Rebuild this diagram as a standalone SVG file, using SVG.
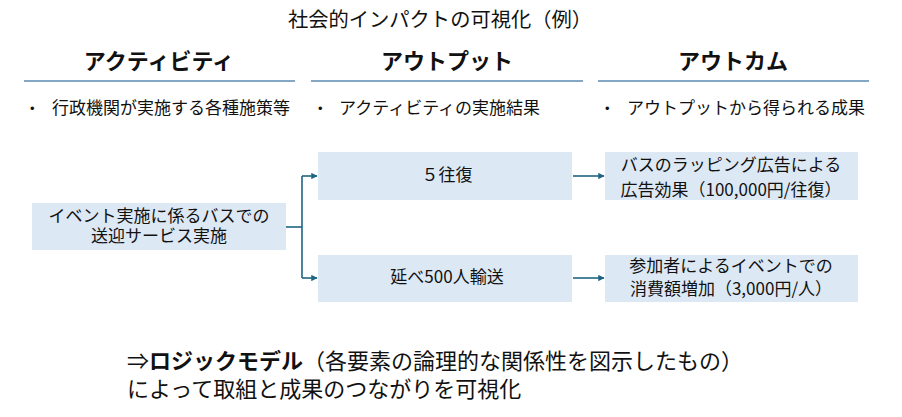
<svg xmlns="http://www.w3.org/2000/svg" width="902" height="417" viewBox="0 0 902 417">
<style>
text{font-family:"Noto Sans CJK JP","Noto Sans",sans-serif;fill:#111;}
.title{font-size:20px;font-family:"Noto Sans CJK JP",serif;}
.hdr{font-size:22px;font-weight:bold;text-anchor:middle;}
.bul{font-size:17px;}
.dot{font-size:13px;font-family:"Liberation Sans",sans-serif;}
.box{fill:#dde8f5;}
.bt{font-size:17px;text-anchor:middle;}
.rule{stroke:#5a8ab0;stroke-width:1.5;}
.conn{stroke:#1f6582;stroke-width:1.6;fill:none;}
.note{font-size:22px;}
</style>
<defs>
<marker id="ah" viewBox="0 0 10 10" refX="9" refY="5" markerWidth="4" markerHeight="4" orient="auto" markerUnits="strokeWidth">
<path d="M0,0 L10,5 L0,10 z" fill="#1f6582"/>
</marker>
</defs>
<rect width="902" height="417" fill="#fff"/>
<g id="title"><text class="title" x="288" y="27" textLength="304" lengthAdjust="spacingAndGlyphs">社会的インパクトの可視化（例）</text></g>
<g id="col-activity">
<text class="hdr" x="159" y="69">アクティビティ</text>
<line class="rule" x1="24" y1="81" x2="295" y2="81"/>
<text class="dot" x="30" y="113">•</text>
<text class="bul" x="52" y="114">行政機関が実施する各種施策等</text>
</g>
<g id="col-output">
<text class="hdr" x="447" y="69">アウトプット</text>
<line class="rule" x1="311" y1="81" x2="583" y2="81"/>
<text class="dot" x="318" y="113">•</text>
<text class="bul" x="339" y="114">アクティビティの実施結果</text>
</g>
<g id="col-outcome">
<text class="hdr" x="733" y="69">アウトカム</text>
<line class="rule" x1="598" y1="81" x2="869" y2="81"/>
<text class="dot" x="605" y="113">•</text>
<text class="bul" x="627" y="114">アウトプットから得られる成果</text>
</g>
<g id="node-activity">
<rect class="box" x="32" y="203" width="254" height="47"/>
<text class="bt" x="159" y="222">イベント実施に係るバスでの</text>
<text class="bt" x="159" y="242">送迎サービス実施</text>
</g>
<g id="node-output1">
<rect class="box" x="318" y="152" width="254" height="48"/>
<text class="bt" x="447" y="181">５往復</text>
</g>
<g id="node-output2">
<rect class="box" x="318" y="255" width="254" height="47"/>
<text class="bt" x="447" y="283">延べ500人輸送</text>
</g>
<g id="node-outcome1">
<rect class="box" x="605" y="152" width="253" height="48"/>
<text class="bt" x="731" y="171">バスのラッピング広告による</text>
<text class="bt" x="731" y="196">広告効果（100,000円/往復）</text>
</g>
<g id="node-outcome2">
<rect class="box" x="605" y="255" width="253" height="47"/>
<text class="bt" x="731" y="272">参加者によるイベントでの</text>
<text class="bt" x="731" y="295">消費額増加（3,000円/人）</text>
</g>
<g id="connectors">
<path class="conn" d="M286,227 H302"/>
<path class="conn" d="M302,176 V278"/>
<path class="conn" d="M302,176 H317" marker-end="url(#ah)"/>
<path class="conn" d="M302,278 H317" marker-end="url(#ah)"/>
<path class="conn" d="M573,176 H604" marker-end="url(#ah)"/>
<path class="conn" d="M573,278 H604" marker-end="url(#ah)"/>
</g>
<g id="note">
<text class="note" x="127" y="369">⇒<tspan font-weight="bold">ロジックモデル</tspan>（各要素の論理的な関係性を図示したもの）</text>
<text class="note" x="127" y="397">によって取組と成果のつながりを可視化</text>
</g>
</svg>
